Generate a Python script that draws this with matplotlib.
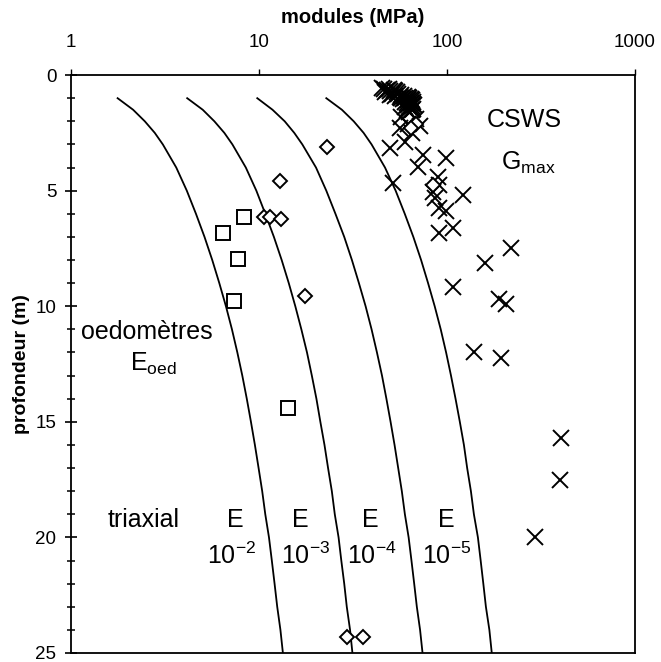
import matplotlib
matplotlib.use('Agg')
import matplotlib.pyplot as plt
from matplotlib.ticker import FixedLocator, NullLocator

plt.rcParams['font.family'] = ['Liberation Sans', 'DejaVu Sans']
plt.rcParams['mathtext.default'] = 'regular'

# profils de module E(z) pour chaque niveau de deformation
depth_curve = [1, 1.5, 2, 2.5, 3, 4, 5, 6, 7, 8, 9, 10, 11, 12, 13,
               14, 15, 16, 17, 18, 19, 20, 21, 22, 23, 24, 25]
E_1e2 = [1.77, 2.14, 2.47, 2.79, 3.08, 3.63, 4.13, 4.62, 5.13, 5.64, 6.15, 6.67, 7.18, 7.67,
         8.15, 8.61, 9.06, 9.51, 9.95, 10.4, 10.8, 11.3, 11.7, 12.1, 12.5, 13.0, 13.4]
E_1e3 = [4.15, 5.02, 5.79, 6.54, 7.22, 8.51, 9.68, 10.8, 12.0, 13.2, 14.4, 15.6, 16.8, 18.0,
         19.1, 20.2, 21.2, 22.3, 23.3, 24.4, 25.3, 26.5, 27.4, 28.4, 29.3, 30.5, 31.4]
E_1e4 = [9.79, 11.8, 13.7, 15.4, 17.0, 20.1, 22.8, 25.5, 28.4, 31.2, 34.0, 36.9, 39.7, 42.4,
         45.1, 47.6, 50.1, 52.6, 55.0, 57.5, 59.7, 62.5, 64.7, 66.9, 69.1, 71.9, 74.1]
E_1e5 = [22.8, 27.6, 31.9, 36.0, 39.7, 46.8, 53.3, 59.6, 66.2, 72.8, 79.3, 86.0, 92.6, 98.9,
         105, 111, 117, 123, 128, 134, 139, 146, 151, 156, 161, 168, 173]
curves = [E_1e2, E_1e3, E_1e4, E_1e5]

# essais CSWS (Gmax)
csws_z = [0.55, 0.6, 0.6, 0.65, 0.65, 0.7, 0.7, 0.75, 0.75, 0.8, 0.8, 0.85, 0.85, 0.9, 0.9,
          0.95, 0.95, 1.0, 1.0, 1.0, 1.05, 1.05, 1.1, 1.1, 1.15, 1.15, 1.2, 1.2, 1.25,
          1.3, 1.3, 1.35, 1.4, 1.4, 1.45, 1.5, 1.5, 1.6,
          1.8, 1.9, 2.1, 2.2, 2.3, 2.5, 2.9,
          3.17, 3.46, 3.6, 3.97, 4.4, 4.68, 4.76, 5.05, 5.2, 5.33, 5.77, 5.9, 6.63, 6.85,
          7.5, 8.15, 9.15, 9.7, 9.9, 11.97, 12.25, 15.7, 17.5, 20.0]
csws_G = [45, 46, 49, 48, 52, 50, 53, 47, 54, 51, 55, 57, 50, 53, 59,
          56, 62, 60, 63, 57, 58, 64, 62, 65, 60, 66, 64, 61, 66,
          62, 67, 65, 63, 60, 66, 61, 65, 63,
          57, 68, 62, 72, 56, 65, 60,
          49.6, 74.5, 99, 70, 90, 51.7, 91, 84, 121, 86, 91, 99, 107, 91,
          219, 160, 107, 190, 205, 140, 194, 403, 400, 295]

# triaxial
tri_z = [2.1, 2.3, 3.1, 4.6, 4.76, 6.15, 6.15, 6.24, 9.56, 24.3, 24.3]
tri_E = [68, 64, 22.9, 13.0, 84, 10.6, 11.5, 13.1, 17.6, 29.5, 35.8]

# oedometres
oed_z = [6.13, 6.85, 7.96, 9.76, 14.4]
oed_E = [8.36, 6.45, 7.7, 7.4, 14.3]

fig = plt.figure(figsize=(6.61, 6.62), dpi=100)
ax = fig.add_axes([0.1074, 0.0136, 0.8533, 0.873])

for E in curves:
    ax.plot(E, depth_curve, color='black', lw=1.3)

ax.plot(csws_G, csws_z, linestyle='none', marker='x', ms=11, mew=1.4, color='black')
ax.plot(tri_E, tri_z, linestyle='none', marker='D', ms=7.5, mew=1.4,
        mfc='white', mec='black')
ax.plot(oed_E, oed_z, linestyle='none', marker='s', ms=9.5, mew=1.4,
        mfc='white', mec='black')

ax.set_xscale('log')
ax.set_xlim(1, 1000)
ax.set_ylim(25, 0)

ax.xaxis.set_major_locator(FixedLocator([1, 10, 100, 1000]))
ax.xaxis.set_minor_locator(NullLocator())
ax.set_xticklabels(['1', '10', '100', '1000'])
ax.xaxis.tick_top()
ax.xaxis.set_label_position('top')
ax.tick_params(axis='x', which='major', direction='out', length=4, width=1,
               labelsize=13.5, pad=13, top=True, bottom=False)

ax.yaxis.set_major_locator(FixedLocator([0, 5, 10, 15, 20, 25]))
ax.yaxis.set_minor_locator(FixedLocator(list(range(26))))
ax.tick_params(axis='y', which='major', direction='inout', length=9, width=1.2,
               labelsize=13.5, pad=6)
ax.tick_params(axis='y', which='minor', direction='inout', length=6, width=1.1)

for s in ax.spines.values():
    s.set_linewidth(1.3)

ax.set_xlabel('modules (MPa)', fontsize=14.5, fontweight='bold', labelpad=8)
ax.set_ylabel('profondeur (m)', fontsize=14, fontweight='bold', labelpad=4)

# annotations
fs = 18
ax.text(258, 1.95, 'CSWS', fontsize=fs, ha='center', va='center')
ax.text(270, 3.8, 'G$_{max}$', fontsize=fs, ha='center', va='center')
ax.text(2.53, 11.1, 'oedomètres', fontsize=fs, ha='center', va='center')
ax.text(2.75, 12.5, 'E$_{oed}$', fontsize=fs, ha='center', va='center')
ax.text(2.44, 19.25, 'triaxial', fontsize=fs, ha='center', va='center')

E_pos = [7.48, 16.6, 38.9, 99.1]
eps_pos = [7.19, 17.6, 39.7, 99.1]
eps_lab = ['10$^{-2}$', '10$^{-3}$', '10$^{-4}$', '10$^{-5}$']
for xe, xs, lab in zip(E_pos, eps_pos, eps_lab):
    ax.text(xe, 19.25, 'E', fontsize=fs, ha='center', va='center')
    ax.text(xs, 20.8, lab, fontsize=fs, ha='center', va='center')

fig.savefig('out.png', dpi=100)
